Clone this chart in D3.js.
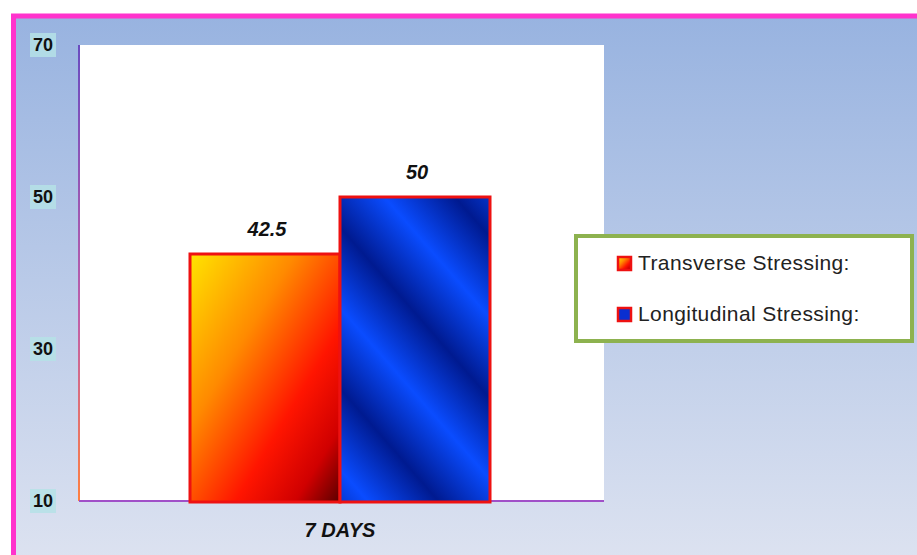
<!DOCTYPE html>
<html lang="en">
<head>
  <meta charset="UTF-8" />
  <title>7 Days Stressing</title>
  <style>
    html, body { margin: 0; padding: 0; background: #fff; }
    svg { display: block; }
  </style>
</head>
<body>
<script src="https://d3js.org/d3.v7.min.js"></script>
<script>
  const categories = ["7 DAYS"];
  const seriesNames = ["Transverse Stressing:", "Longitudinal Stressing:"];
  const seriesValues = [42.5, 50];
  const yTicks = [10, 30, 50, 70];

  const width = 917, height = 555;
  const plot = {left: 79, right: 604, top: 45, bottom: 501};

  const svg = d3.select("body").append("svg")
    .attr("width", width)
    .attr("height", height)
    .style("font-family", "'Liberation Sans', Arial, sans-serif");

  const defs = svg.append("defs");

  const bg = defs.append("linearGradient").attr("id", "bg")
    .attr("x1", 0).attr("y1", 0).attr("x2", 0).attr("y2", 1);
  bg.append("stop").attr("offset", 0).attr("stop-color", "#98b3e0");
  bg.append("stop").attr("offset", 1).attr("stop-color", "#dfe4f1");

  const orange = defs.append("linearGradient").attr("id", "orange")
    .attr("x1", 0).attr("y1", 0).attr("x2", 1).attr("y2", 1);
  orange.append("stop").attr("offset", 0).attr("stop-color", "#ffe400");
  orange.append("stop").attr("offset", 0.35).attr("stop-color", "#ff8a00");
  orange.append("stop").attr("offset", 0.65).attr("stop-color", "#ff1500");
  orange.append("stop").attr("offset", 0.85).attr("stop-color", "#d00000");
  orange.append("stop").attr("offset", 1).attr("stop-color", "#5a0000");

  const blue = defs.append("linearGradient").attr("id", "blue")
    .attr("gradientUnits", "userSpaceOnUse")
    .attr("x1", 0).attr("y1", 0).attr("x2", 80).attr("y2", -70)
    .attr("spreadMethod", "repeat");
  blue.append("stop").attr("offset", 0).attr("stop-color", "#001a90");
  blue.append("stop").attr("offset", 0.5).attr("stop-color", "#0a4cff");
  blue.append("stop").attr("offset", 1).attr("stop-color", "#001a90");

  const axisGrad = defs.append("linearGradient").attr("id", "axisGrad")
    .attr("gradientUnits", "userSpaceOnUse")
    .attr("x1", 0).attr("y1", plot.top).attr("x2", 0).attr("y2", plot.bottom);
  axisGrad.append("stop").attr("offset", 0).attr("stop-color", "#6a4cc0");
  axisGrad.append("stop").attr("offset", 0.6).attr("stop-color", "#c060a8");
  axisGrad.append("stop").attr("offset", 1).attr("stop-color", "#ff8040");

  // background panel with pink border
  svg.append("rect")
    .attr("x", 13.5).attr("y", 16)
    .attr("width", width + 10).attr("height", height + 10)
    .attr("fill", "url(#bg)")
    .attr("stroke", "#ff33cc").attr("stroke-width", 5);

  const y = d3.scaleLinear().domain([10, 70]).range([plot.bottom, plot.top]);
  const x = d3.scaleBand().domain(categories).range([190, 490]);
  const xs = d3.scaleBand().domain(seriesNames).range([0, x.bandwidth()]);

  // plot area
  svg.append("rect")
    .attr("x", plot.left).attr("y", plot.top)
    .attr("width", plot.right - plot.left).attr("height", plot.bottom - plot.top)
    .attr("fill", "#fff");

  svg.append("rect")
    .attr("x", plot.left - 1).attr("y", plot.top)
    .attr("width", 2).attr("height", plot.bottom - plot.top)
    .attr("fill", "url(#axisGrad)");
  svg.append("rect")
    .attr("x", plot.left).attr("y", plot.bottom - 1)
    .attr("width", plot.right - plot.left).attr("height", 2)
    .attr("fill", "#a050c8");

  // y tick labels with tinted boxes
  const tick = svg.append("g").selectAll("g").data(yTicks).join("g")
    .attr("transform", d => `translate(43,${y(d)})`);
  tick.append("rect")
    .attr("x", -13).attr("y", -12).attr("width", 26).attr("height", 24)
    .attr("fill", "#b5e2e6").attr("opacity", 0.85);
  tick.append("text")
    .attr("text-anchor", "middle").attr("dy", "0.36em")
    .attr("font-size", 18).attr("font-weight", "bold").attr("fill", "#111")
    .text(d => d);

  // bars
  const fills = ["url(#orange)", "url(#blue)"];
  const bars = svg.append("g").selectAll("g").data(seriesNames).join("g");
  bars.append("rect")
    .attr("x", (d, i) => x(categories[0]) + xs(d))
    .attr("y", (d, i) => y(seriesValues[i]))
    .attr("width", xs.bandwidth())
    .attr("height", (d, i) => y(10) - y(seriesValues[i]) + 1)
    .attr("fill", (d, i) => fills[i])
    .attr("stroke", "#ee1111").attr("stroke-width", 3);
  bars.append("text")
    .attr("x", (d, i) => x(categories[0]) + xs(d) + xs.bandwidth() / 2 + 2)
    .attr("y", (d, i) => y(seriesValues[i]) - 18)
    .attr("text-anchor", "middle")
    .attr("font-size", 20).attr("font-weight", "bold").attr("font-style", "italic")
    .attr("fill", "#111")
    .text((d, i) => seriesValues[i]);

  svg.append("text")
    .attr("x", x(categories[0]) + x.bandwidth() / 2)
    .attr("y", 537)
    .attr("text-anchor", "middle")
    .attr("font-size", 20).attr("font-weight", "bold").attr("font-style", "italic")
    .attr("fill", "#111")
    .text(categories[0]);

  // legend
  const legend = svg.append("g");
  legend.append("rect")
    .attr("x", 576).attr("y", 236).attr("width", 336).attr("height", 105)
    .attr("fill", "#fff").attr("stroke", "#8db24f").attr("stroke-width", 4);
  const li = legend.selectAll("g").data(seriesNames).join("g")
    .attr("transform", (d, i) => `translate(617,${263 + i * 51})`);
  li.append("rect")
    .attr("x", 1).attr("y", -6).attr("width", 13).attr("height", 13)
    .attr("fill", (d, i) => i === 0 ? "url(#orange)" : "#0a2fd0")
    .attr("stroke", "#ee1111").attr("stroke-width", 2.5);
  li.append("text")
    .attr("x", 21).attr("dy", "0.35em")
    .attr("font-size", 21).attr("letter-spacing", 0.4).attr("fill", "#222")
    .text(d => d);
</script>
</body>
</html>
